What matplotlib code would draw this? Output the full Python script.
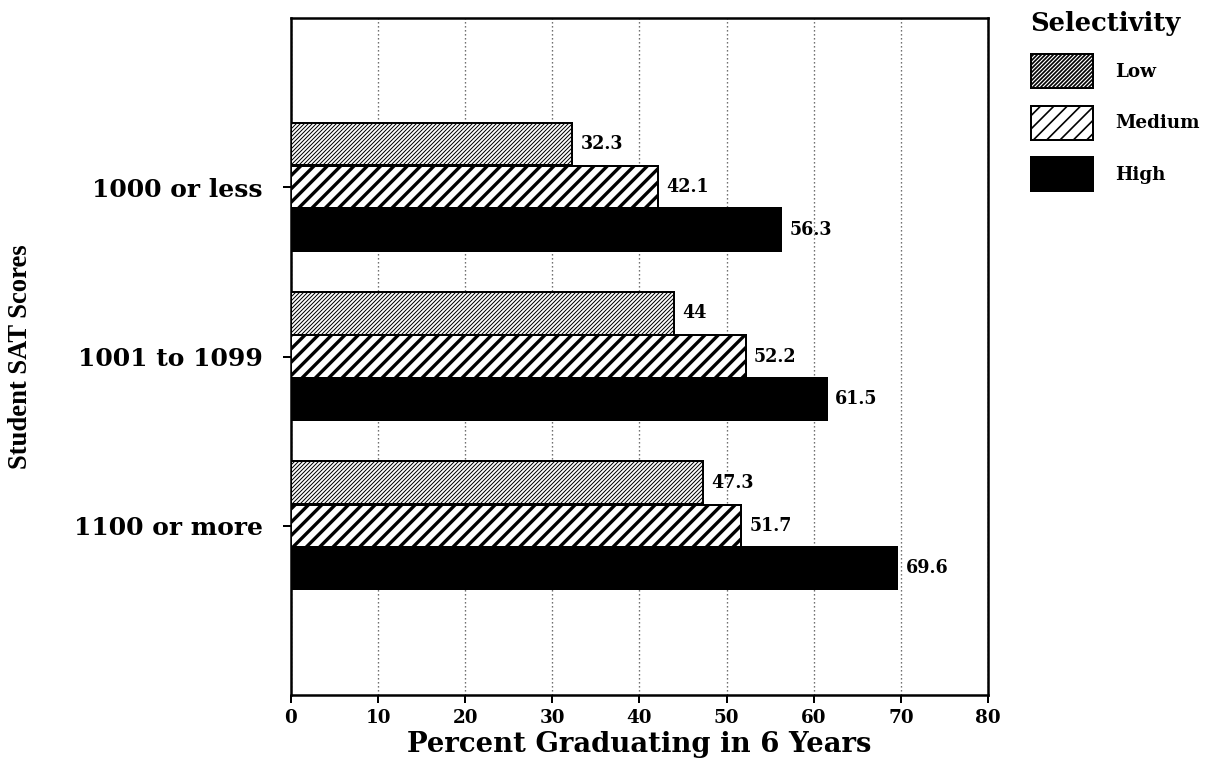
import numpy as np
import matplotlib
matplotlib.use("Agg")
import matplotlib.pyplot as plt

# data
categories = ["1000 or less", "1001 to 1099", "1100 or more"]
series = ["Low", "Medium", "High"]
low = [32.3, 44, 47.3]
medium = [42.1, 52.2, 51.7]
high = [56.3, 61.5, 69.6]
xticks = [0, 10, 20, 30, 40, 50, 60, 70, 80]

DPI = 120
fig = plt.figure(figsize=(1214 / DPI, 760 / DPI), dpi=DPI)
ax = fig.add_axes([0.2397, 0.0855, 0.5741, 0.8908])

serif = "DejaVu Serif"
y = np.arange(len(categories))
h = 0.25
styles = [
    (low, -0.255, "white", "/" * 10, 0.6),
    (medium, 0.0, "white", "///", 2.0),
    (high, 0.25, "black", None, 1.0),
]
bars = []
for (vals, off, fc, hatch, hlw), name in zip(styles, series):
    with plt.rc_context({"hatch.linewidth": hlw}):
        b = ax.barh(y + off, vals, height=h, color=fc, edgecolor="black",
                    hatch=hatch, linewidth=1.2, label=name, zorder=3)
    bars.append(b)
    for yy, v in zip(y + off, vals):
        ax.annotate(f"{v:g}", (v, yy), xytext=(5, 0), textcoords="offset points",
                    va="center", ha="left", fontsize=10.5, family=serif,
                    fontweight="bold", zorder=4)

ax.set_xlim(0, 80)
ax.set_ylim(3, -1)
ax.set_xticks(xticks)
ax.set_xticklabels([str(t) for t in xticks], family=serif, fontweight="bold",
                   fontsize=11)
ax.set_yticks(y)
ax.set_yticklabels(categories, family=serif, fontweight="bold", fontsize=15)
ax.tick_params(axis="both", direction="out", length=5, width=1.2, color="black")
ax.tick_params(axis="y", pad=12)
ax.xaxis.grid(True, linestyle=(0, (1, 2)), color="#555555", linewidth=0.8, zorder=0)
ax.set_axisbelow(True)
for s in ax.spines.values():
    s.set_linewidth(1.5)
    s.set_color("black")

ax.set_xlabel("Percent Graduating in 6 Years", family=serif, fontweight="bold",
              fontsize=16.5, labelpad=2)
ax.set_ylabel("Student SAT Scores", family="Liberation Serif", fontweight="bold",
              fontsize=16)
ax.yaxis.set_label_coords(-0.37, 0.5)

leg = fig.legend(handles=bars, labels=series, loc="upper left",
                 bbox_to_anchor=(0.849, 0.985), frameon=False, title="Selectivity",
                 prop={"family": serif, "weight": "bold", "size": 11},
                 handlelength=3.4, handleheight=2.5, labelspacing=0.95,
                 handletextpad=1.2, alignment="left", borderpad=0,
                 borderaxespad=0)
leg.get_title().set_fontproperties({"family": serif, "weight": "bold", "size": 15.5})

fig.savefig("out.png", dpi=DPI)
